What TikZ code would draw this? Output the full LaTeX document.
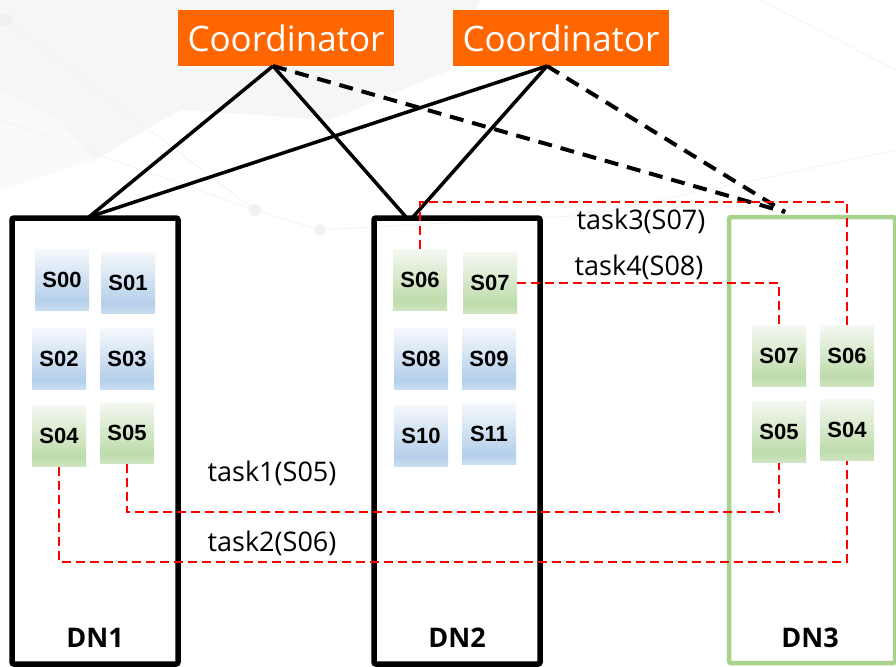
\documentclass[tikz,border=0pt]{standalone}
\usepackage{fontspec}
\setmainfont{Open Sans}
\newfontfamily\tilefont{Liberation Sans}
\usetikzlibrary{positioning}

\definecolor{coordorange}{HTML}{FF6600}
\definecolor{dngreen}{HTML}{A9D18E}
\definecolor{bluetop}{HTML}{F5F8FC}
\definecolor{bluemid}{HTML}{B4CFEA}
\definecolor{bluebot}{HTML}{CADEF0}
\definecolor{greentop}{HTML}{F5F8F2}
\definecolor{greenmid}{HTML}{BEDCAB}
\definecolor{greenbot}{HTML}{D0E6C2}
\definecolor{taskred}{HTML}{FF0000}

\pgfdeclareverticalshading{bluetile}{100bp}{color(0bp)=(bluebot); color(25bp)=(bluebot); color(33bp)=(bluemid); color(75bp)=(bluetop); color(100bp)=(bluetop)}
\pgfdeclareverticalshading{greentile}{100bp}{color(0bp)=(greenbot); color(25bp)=(greenbot); color(33bp)=(greenmid); color(75bp)=(greentop); color(100bp)=(greentop)}

\tikzset{
  coord/.style={fill=coordorange, text=white, minimum width=216, minimum height=56, inner sep=0pt, font=\fontsize{35}{36}\selectfont},
  tile/.style={minimum width=54, minimum height=61, inner sep=0pt, font=\tilefont\bfseries\fontsize{22}{23}\selectfont},
  tileblue/.style={tile, shading=bluetile},
  tilegreen/.style={tile, shading=greentile},
  dnbox/.style={draw=black, line width=5.5pt, rounded corners=2pt, minimum width=166, minimum height=446, inner sep=0pt},
  dnlabel/.style={font=\bfseries\fontsize{27}{28}\selectfont},
  tasklabel/.style={font=\fontsize{27}{28}\selectfont, inner sep=0pt},
  link/.style={line width=3.5pt},
  backlink/.style={line width=4pt, dash pattern=on 14pt off 9pt},
  taskline/.style={draw=taskred, line width=2.6pt, dash pattern=on 9pt off 5pt}
}

\begin{document}
\begin{tikzpicture}[x=1pt, y=-1pt]
\useasboundingbox (0,0) rectangle (896,666);

% faint background
\fill[gray!7] (0,0) -- (480,0) -- (450,70) -- (330,120) -- (180,110) -- (95,160) -- (0,190) -- cycle;
\fill[gray!4] (0,190) -- (95,160) -- (60,120) -- (0,90) -- cycle;
\draw[gray!9, line width=1pt] (5,20) -- (255,210) -- (320,230) -- (590,215) -- (896,150);
\draw[gray!9, line width=1pt] (0,120) -- (255,210);
\draw[gray!8, line width=1pt] (760,0) -- (896,70);
\fill[gray!12] (5,20) circle (7);
\fill[gray!10] (255,210) circle (6);
\fill[gray!10] (320,230) circle (6);
\fill[gray!8] (590,215) circle (6);

% data nodes
\node[dnbox] (dn1) at (95,441) {};
\node[dnbox] (dn2) at (457,441) {};
\node[dnbox, draw=dngreen, line width=4.5pt] (dn3) at (812,440) {};
\node[dnlabel] (dn1lab) at (95,638) {DN1};
\node[dnlabel] (dn2lab) at (457,638) {DN2};
\node[dnlabel] (dn3lab) at (810,638) {DN3};

% coordinators
\node[coord] (c1) at (286,38) {Coordinator};
\node[coord] (c2) at (561,38) {Coordinator};

\coordinate (c1top) at (273,66);
\coordinate (c2top) at (547,66);
\coordinate (dn1top) at (89,217);
\coordinate (dn2topa) at (406,217);
\coordinate (dn2topb) at (413,217);
\coordinate (dn3top) at (785,212);

\draw[link] (c1top) -- (dn1top);
\draw[link] (c1top) -- (dn2topa);
\draw[link] (c2top) -- (dn1top);
\draw[link] (c2top) -- (dn2topb);
\draw[backlink] (c1top) -- (dn3top);
\draw[backlink] (c2top) -- (dn3top);

% shards on DN1
\node[tileblue] (s00a) at (62,280) {S00};
\node[tileblue] (s01a) at (128,283) {S01};
\node[tileblue] (s02a) at (59,359) {S02};
\node[tileblue] (s03a) at (127,359) {S03};
\node[tilegreen] (s04a) at (59,436) {S04};
\node[tilegreen] (s05a) at (127,433) {S05};

% shards on DN2
\node[tilegreen] (s06b) at (420,280) {S06};
\node[tilegreen] (s07b) at (490,283) {S07};
\node[tileblue] (s08b) at (421,359) {S08};
\node[tileblue] (s09b) at (489,359) {S09};
\node[tileblue] (s10b) at (421,436) {S10};
\node[tileblue] (s11b) at (489,434) {S11};

% shards on DN3
\node[tilegreen] (s07c) at (779,356) {S07};
\node[tilegreen] (s06c) at (847,356) {S06};
\node[tilegreen] (s05c) at (779,432) {S05};
\node[tilegreen] (s04c) at (847,430) {S04};

% task routes
\draw[taskline] (s06b.north) -- (s06b.north |- 0,202) -| (s06c.north);
\draw[taskline] (s07b.east) -| (s07c.north);
\draw[taskline] (s05a.south) -- (s05a.south |- 0,512) -| (s05c.south);
\draw[taskline] (s04a.south) -- (s04a.south |- 0,562) -| (s04c.south);

\node[tasklabel] (t3) at (641,221) {task3(S07)};
\node[tasklabel] (t4) at (639,267) {task4(S08)};
\node[tasklabel] (t1) at (272,473) {task1(S05)};
\node[tasklabel] (t2) at (272,543) {task2(S06)};
\end{tikzpicture}
\end{document}
